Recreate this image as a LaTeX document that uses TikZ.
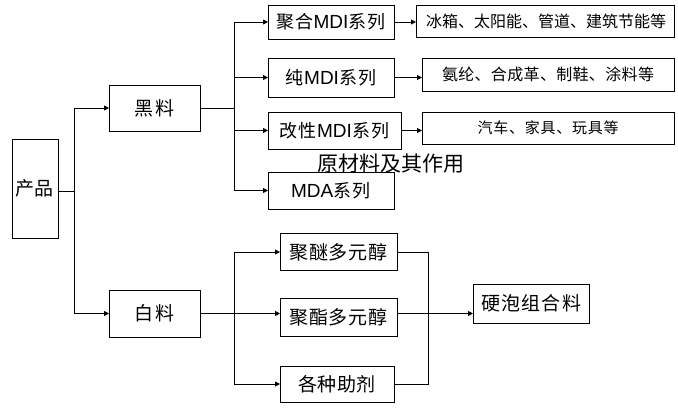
\documentclass[tikz,border=0pt]{standalone}
\usepackage{fontspec}
\setmainfont{Liberation Sans}
\newfontfamily\cjkN{Noto Sans CJK SC}
\usetikzlibrary{arrows.meta}
\newdimen\spgapdim
\def\sploop#1{\ifx#1\relax\else#1\kern\spgapdim\relax\expandafter\sploop\fi}
% #1 size, #2 gap, #3 text
\newcommand\spcjk[3]{{\fontsize{#1}{#1}\selectfont\cjkN\spgapdim=#2\relax\kern0.5\spgapdim\sploop#3\relax\kern-0.5\spgapdim}}
\newcommand\mdcjk[1]{\spcjk{18pt}{0.8pt}{#1}}
% spread text over an exact width: #1 width, #2 size, #3 text
\def\spreadloop#1{\ifx#1\relax\else\hfil#1\expandafter\spreadloop\fi}
\def\spreadfirst#1{#1\spreadloop}
\newcommand\spread[3]{{\fontsize{#2}{#2}\selectfont\cjkN\hbox to #1{\spreadfirst#3\relax}}}
\newcommand\latn[1]{{\fontsize{19}{19}\selectfont #1}}
\begin{document}
\begin{tikzpicture}[x=1pt,y=-1pt,
  box/.style={draw, line width=0.8pt, inner sep=0pt, outer sep=0pt},
  arr/.style={line width=0.8pt, -{Triangle[length=5pt,width=5pt]}},
  ln/.style={line width=0.8pt}]
\useasboundingbox (0,0) rectangle (678,409);
\fill[white] (0,0) rectangle (678,409);
% nodes
\node[box, minimum width=46pt, minimum height=99pt] (cp) at (35,188.5) {\raisebox{-3pt}{\spread{38pt}{19pt}{产品}}};
\node[box, minimum width=91pt, minimum height=46pt] (hl) at (154.5,108) {\spread{41pt}{19pt}{黑料}};
\node[box, minimum width=91pt, minimum height=47pt] (bl) at (154.5,313.5) {\spread{40pt}{19pt}{白料}};
\node[box, minimum width=126pt, minimum height=34pt] (jh) at (331,22) {\mdcjk{聚合}\latn{MDI}\mdcjk{系列}};
\node[box, minimum width=126pt, minimum height=39pt] (cm) at (331,77.5) {\mdcjk{纯}\latn{MDI}\mdcjk{系列}};
\node[box, minimum width=133pt, minimum height=37pt] (gx) at (334.5,130.5) {\mdcjk{改性}\latn{MDI}\mdcjk{系列}};
\node[box, minimum width=126pt, minimum height=37pt] (mda) at (331,190.5) {\latn{MDA}\mdcjk{系列}};
\node[box, minimum width=258pt, minimum height=32pt] (r1) at (545,21) {\spread{238pt}{16pt}{冰箱、太阳能、管道、建筑节能等}};
\node[box, minimum width=252pt, minimum height=33pt] (r2) at (548,74.5) {\spread{212pt}{16pt}{氨纶、合成革、制鞋、涂料等}};
\node[box, minimum width=252pt, minimum height=32pt] (r3) at (548,128) {\spread{141pt}{15pt}{汽车、家具、玩具等}};
\node[box, minimum width=117pt, minimum height=37pt] (pe) at (338.5,252) {\spread{98pt}{19pt}{聚醚多元醇}};
\node[box, minimum width=117pt, minimum height=38pt] (pz) at (338.5,317) {\spread{98pt}{19pt}{聚酯多元醇}};
\node[box, minimum width=114pt, minimum height=36pt] (gz) at (337,384) {\spread{78pt}{19pt}{各种助剂}};
\node[box, minimum width=116pt, minimum height=39pt] (yp) at (531,303.5) {\spread{100pt}{19pt}{硬泡组合料}};
\node (cap) at (390.5,164) {\fontsize{21}{21}\selectfont\cjkN 原材料及其作用};
% junctions
\coordinate (ja) at (74,0);
\coordinate (jb) at (234,0);
\coordinate (jc) at (428,0);
\coordinate (cpo) at ([yshift=-3pt]cp.east);
% connectors
\draw[ln] (cpo) -- (ja |- cpo);
\draw[ln] (ja |- hl.west) -- (ja |- bl.west);
\draw[arr] (ja |- hl.west) -- (hl.west);
\draw[arr] (ja |- bl.west) -- (bl.west);
\draw[ln] (hl.east) -- (jb |- hl.east);
\draw[ln] (jb |- jh.west) -- (jb |- mda.west);
\draw[arr] (jb |- jh.west) -- (jh.west);
\draw[arr] (jb |- cm.west) -- (cm.west);
\draw[arr] (jb |- gx.west) -- (gx.west);
\draw[arr] (jb |- mda.west) -- (mda.west);
\draw[arr] (jh.east) -- (r1.west |- jh.east);
\draw[arr] (cm.east) -- (r2.west |- cm.east);
\draw[arr] (gx.east) -- (r3.west |- gx.east);
\draw[ln] (jb |- pe.west) -- (jb |- gz.west);
\draw[arr] (jb |- pe.west) -- (pe.west);
\draw[arr] (bl.east) -- (pz.west |- bl.east);
\draw[arr] (jb |- gz.west) -- (gz.west);
\draw[ln] (pe.east) -- (jc |- pe.east) -- (jc |- gz.east) -- (gz.east);
\draw[arr] (pz.east |- bl.east) -- (yp.west |- bl.east);
\end{tikzpicture}
\end{document}
